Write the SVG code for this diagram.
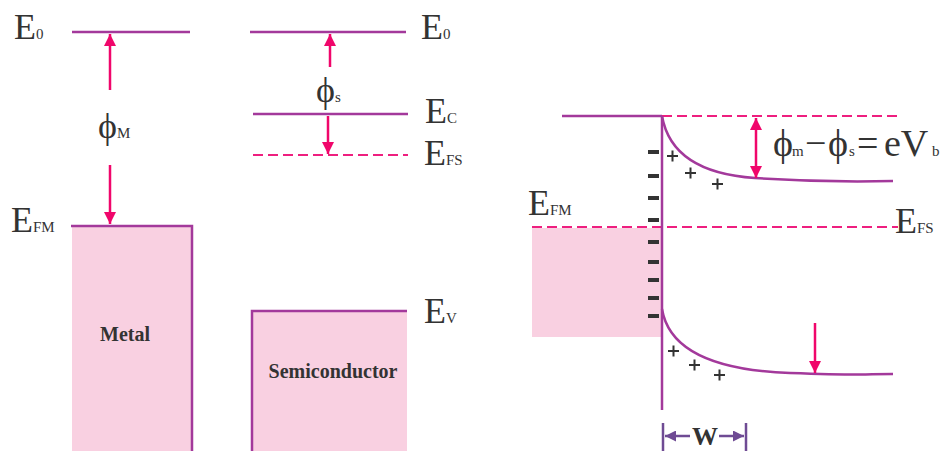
<svg xmlns="http://www.w3.org/2000/svg" width="943" height="451" viewBox="0 0 943 451">
<style>
.lv{stroke:#a3399b;stroke-width:2.5;fill:none}
.dl{stroke:#ee1f7f;stroke-width:2;stroke-dasharray:10 5;fill:none}
.ar{stroke:#f0066b;stroke-width:2.5;fill:none}
.band{fill:#f9d0e1}
.t{font-family:"Liberation Serif","Times New Roman",serif;fill:#333}
.big{font-size:36px}
.sub{font-size:15px}
.bold{font-weight:bold;font-size:20px}
.neg{fill:#333}
.pl{stroke:#333;stroke-width:2;fill:none}
.wd{stroke:#6f4b94;stroke-width:2.5;fill:none}
</style>
<defs>
<marker id="ah" viewBox="0 0 10 10" refX="10" refY="5" markerUnits="userSpaceOnUse" markerWidth="15" markerHeight="12" orient="auto-start-reverse">
<path d="M0,0 L10,5 L0,10 z" fill="#f0066b"/>
</marker>
<marker id="wh" viewBox="0 0 10 10" refX="10" refY="5" markerUnits="userSpaceOnUse" markerWidth="12" markerHeight="11" orient="auto">
<path d="M0,0 L10,5 L0,10 z" fill="#6f4b94"/>
</marker>
</defs>

<g id="metal">
<rect class="band" x="72" y="226" width="120" height="225"/>
<path class="lv" d="M71,226 H192 V451"/>
<line class="lv" x1="72" y1="32" x2="190" y2="32"/>
<text class="t big" x="14" y="39">E<tspan class="sub">0</tspan></text>
<text class="t big" x="11" y="232">E<tspan class="sub">FM</tspan></text>
<text class="t big" x="98" y="138">ϕ<tspan class="sub">M</tspan></text>
<text class="t bold" x="125" y="341" text-anchor="middle">Metal</text>
</g>

<g id="semiconductor">
<rect class="band" x="252" y="311" width="155" height="140"/>
<path class="lv" d="M252,451 V311 H407"/>
<line class="lv" x1="250" y1="32" x2="406" y2="32"/>
<line class="lv" x1="253" y1="114" x2="408" y2="114"/>
<line class="dl" x1="253" y1="155" x2="408" y2="155"/>
<text class="t big" x="421" y="39">E<tspan class="sub">0</tspan></text>
<text class="t big" x="425" y="123">E<tspan class="sub">C</tspan></text>
<text class="t big" x="424" y="165">E<tspan class="sub">FS</tspan></text>
<text class="t big" x="424" y="323">E<tspan class="sub">V</tspan></text>
<text class="t big" x="316" y="102">ϕ<tspan class="sub">s</tspan></text>
<text class="t bold" x="333" y="378" text-anchor="middle">Semiconductor</text>
</g>

<g id="junction">
<rect class="band" x="532" y="228" width="130" height="109"/>
<line class="lv" x1="562" y1="116" x2="662" y2="116"/>
<line class="dl" x1="662" y1="116" x2="897" y2="116"/>
<line class="dl" x1="532" y1="227" x2="898" y2="227"/>
<line class="lv" x1="662" y1="116" x2="662" y2="410"/>
<path class="lv" d="M662,116 C668,150 695,174 755,178 S850,182 893,181"/>
<path class="lv" d="M662,309 C668,345 705,370 790,373 S860,374 893,374"/>
<text class="t big" x="528" y="215">E<tspan class="sub">FM</tspan></text>
<text class="t big" x="895" y="233">E<tspan class="sub">FS</tspan></text>
<text class="t" font-size="38" y="156"><tspan x="773">ϕ</tspan><tspan class="sub" x="792">m</tspan><tspan x="805">−</tspan><tspan x="828">ϕ</tspan><tspan class="sub" x="849">s</tspan><tspan x="857">=</tspan><tspan x="884">eV</tspan><tspan class="sub" x="932">b</tspan></text>
<g class="neg">
<rect x="648" y="150" width="11" height="4"/>
<rect x="648" y="174" width="11" height="4"/>
<rect x="648" y="196" width="11" height="4"/>
<rect x="648" y="218" width="11" height="4"/>
<rect x="648" y="240" width="11" height="4"/>
<rect x="648" y="260" width="11" height="4"/>
<rect x="648" y="278" width="11" height="4"/>
<rect x="648" y="296" width="11" height="4"/>
<rect x="648" y="314" width="11" height="4"/>
</g>
<path class="pl" d="M667,156 h11 M672.5,150.5 v11 M685,173 h11 M690.5,167.5 v11 M712,184 h11 M717.5,178.5 v11 M668,351 h11 M673.5,345.5 v11 M689,365 h11 M694.5,359.5 v11 M714,375 h11 M719.5,369.5 v11"/>
<path class="wd" d="M663,423 V451 M746,423 V451"/>
<text class="t" font-size="26" font-weight="bold" x="705" y="445" text-anchor="middle">W</text>
</g>

<g id="connectors">
<line class="ar" x1="110" y1="90" x2="110" y2="34" marker-end="url(#ah)"/>
<line class="ar" x1="110" y1="165" x2="110" y2="224" marker-end="url(#ah)"/>
<line class="ar" x1="330" y1="67" x2="330" y2="34" marker-end="url(#ah)"/>
<line class="ar" x1="328" y1="116" x2="328" y2="154" marker-end="url(#ah)"/>
<line class="ar" x1="756" y1="118" x2="756" y2="178" marker-start="url(#ah)" marker-end="url(#ah)"/>
<line class="ar" x1="815" y1="323" x2="815" y2="373" marker-end="url(#ah)"/>
<line class="wd" x1="690" y1="436" x2="665" y2="436" marker-end="url(#wh)"/>
<line class="wd" x1="719" y1="436" x2="744" y2="436" marker-end="url(#wh)"/>
</g>
</svg>
